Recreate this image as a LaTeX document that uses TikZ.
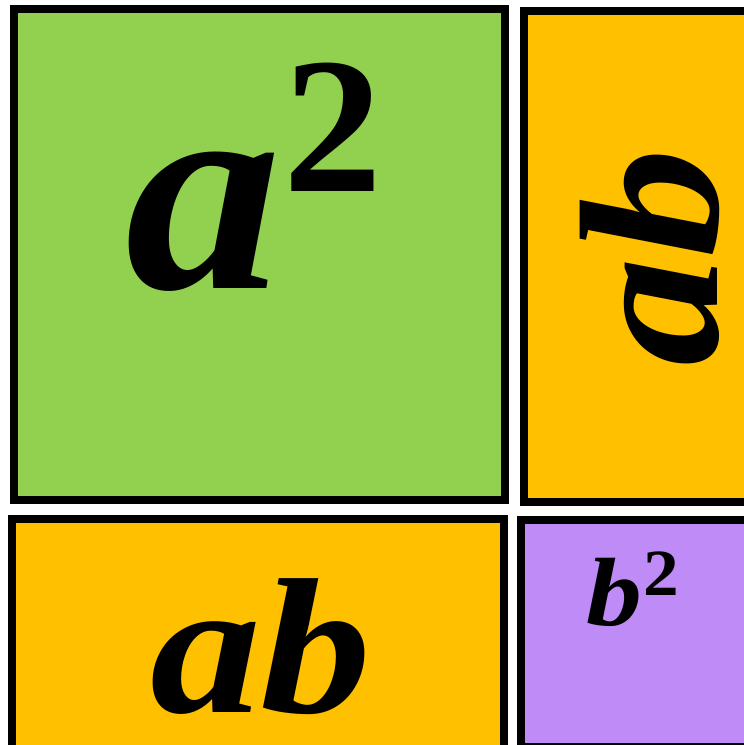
\documentclass[tikz,border=0pt]{standalone}
\usepackage{fontspec}
\setmainfont{Liberation Serif}
\definecolor{sqgreen}{HTML}{92D050}
\definecolor{sqorange}{HTML}{FFC000}
\definecolor{sqpurple}{HTML}{BF8BF7}
\newcommand{\wide}[2]{\scalebox{#1}[1]{#2}}
\tikzset{
  part/.style={draw=black, line width=8pt, outer sep=0pt, inner sep=0pt, anchor=north west},
  term/.style={inner sep=0pt, outer sep=0pt, anchor=base west, font=\bfseries\itshape}
}
\begin{document}
\begin{tikzpicture}[x=1pt,y=-1pt]
\useasboundingbox (0,0) rectangle (744,745);
\clip (0,0) rectangle (744,745);
 \node[part, fill=sqgreen, minimum width=491pt, minimum height=491pt] (aa) at (14,9) {};
 \node[part, fill=sqorange, minimum width=240pt, minimum height=491pt] (abr) at (523.5,11) {};
 \node[part, fill=sqorange, minimum width=492pt, minimum height=240pt] (abb) at (12,519) {};
 \node[part, fill=sqpurple, minimum width=240pt, minimum height=227pt] (bb) at (521,520) {};
 % labels
 \node[term] (laa) at (125,288) {\fontsize{290}{290}\selectfont
   \wide{1.08}{a}\hspace{2pt}\raisebox{97pt}{\upshape\fontsize{194}{194}\selectfont\wide{1.02}{2}}};
 \node[term, rotate=90] (labr) at (717,366) {\fontsize{198}{198}\selectfont\wide{1.1}{ab}};
 \node[term] (labb) at (150,712) {\fontsize{193}{193}\selectfont\wide{1.15}{ab}};
 \node[term] (lbb) at (586,625) {\fontsize{97}{97}\selectfont
   \wide{1.15}{b}\hspace{2pt}\raisebox{30pt}{\upshape\fontsize{66}{66}\selectfont\wide{1.08}{2}}};
\end{tikzpicture}
\end{document}
